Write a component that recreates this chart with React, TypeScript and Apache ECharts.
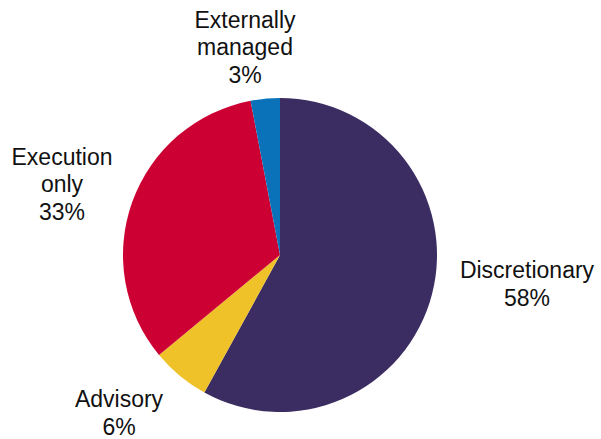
import React, { useEffect, useRef } from "react";
import * as echarts from "echarts";

const categories = ["Discretionary", "Advisory", "Execution\nonly", "Externally\nmanaged"];
const values = [58, 6, 33, 3];
const colors = ["#3b2d62", "#efc22a", "#cc0033", "#0a72b9"];
const labelPos: [number, number][] = [
  [527, 284],
  [119, 413],
  [62, 184],
  [245, 47],
];

export default function App() {
  const ref = useRef<HTMLDivElement>(null);
  useEffect(() => {
    const chart = echarts.init(ref.current!, null, { renderer: "svg" });
    chart.setOption({
      animation: false,
      backgroundColor: "#ffffff",
      series: [
        {
          type: "pie",
          center: [280, 255],
          radius: 157,
          startAngle: 90,
          clockwise: true,
          data: categories.map((c, i) => ({
            name: c,
            value: values[i],
            itemStyle: { color: colors[i] },
          })),
          label: {
            show: true,
            position: "outside",
            formatter: (p: any) => `${p.name}\n${p.value}%`,
            fontFamily: "Liberation Sans, Arial, sans-serif",
            fontSize: 23,
            lineHeight: 27.5,
            color: "#111111",
            align: "center",
            overflow: "none",
            width: 200,
          },
          labelLine: { show: false },
          labelLayout: (p: any) => ({
            x: labelPos[p.dataIndex][0],
            y: labelPos[p.dataIndex][1],
            align: "center",
            verticalAlign: "middle",
          }),
          emphasis: { disabled: true },
        },
      ],
    });
    return () => chart.dispose();
  }, []);
  return (
    <div
      ref={ref}
      style={{ position: "absolute", left: 0, top: 0, width: 601, height: 439 }}
    />
  );
}
